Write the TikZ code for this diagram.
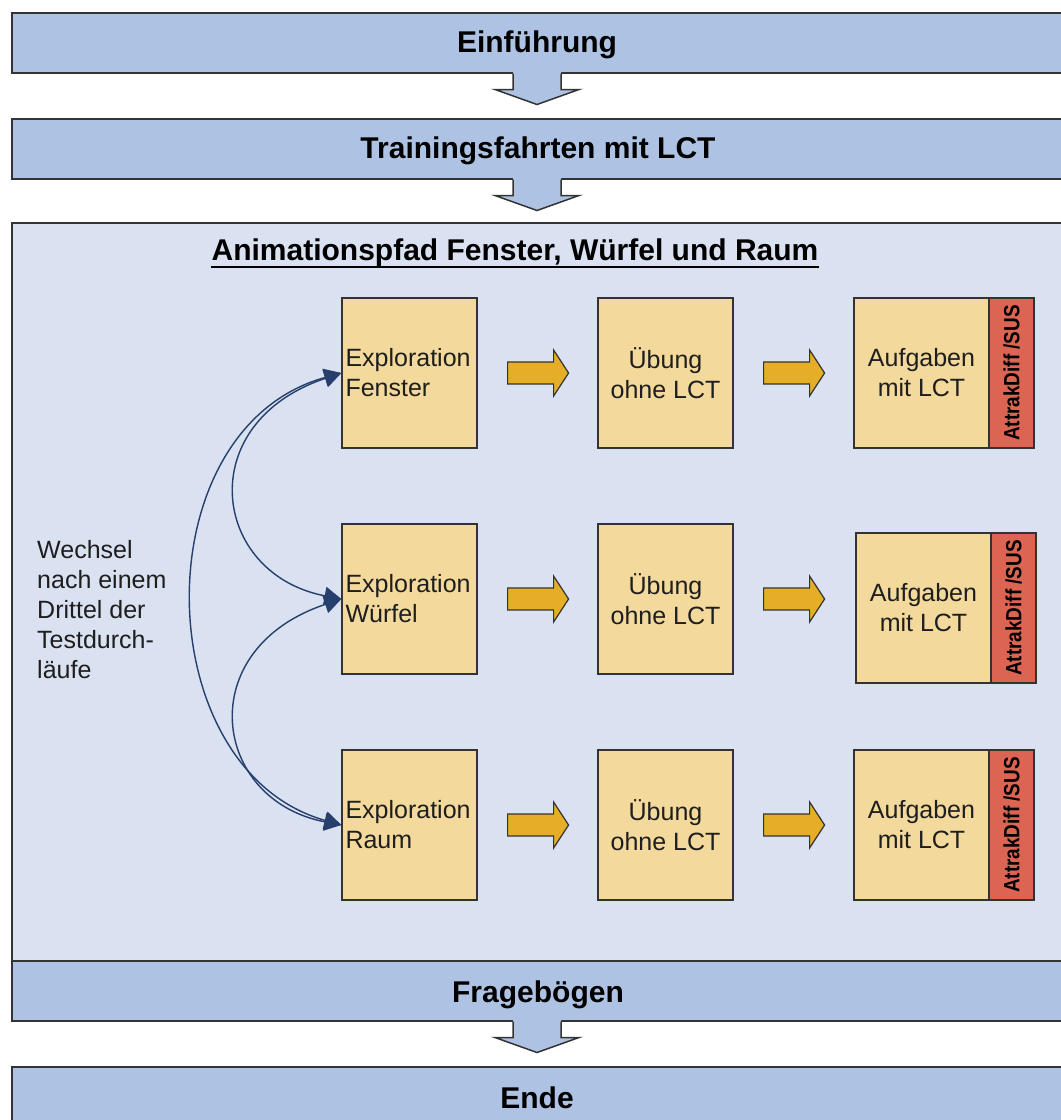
\documentclass[tikz,border=0pt]{standalone}
\usepackage{fontspec}
\setmainfont{Liberation Sans}
\usetikzlibrary{arrows.meta,calc}
\definecolor{bandblue}{HTML}{AEC3E3}
\definecolor{panelblue}{HTML}{DAE1F0}
\definecolor{yboxc}{HTML}{F3D99B}
\definecolor{redc}{HTML}{DC6452}
\definecolor{yarrowc}{HTML}{E6AE27}
\definecolor{navy}{HTML}{263F6C}
\definecolor{edgec}{HTML}{333333}
\definecolor{textc}{HTML}{1E1E1E}
\newcommand{\bandarrow}[1]{%
  \fill[bandblue] (#1) ++(-24,-2) -- ++(0,18) -- ++(-18,0) -- ++(42,15) -- ++(42,-15) -- ++(-18,0) -- ++(0,-18) -- cycle;
  \draw[edge] (#1) ++(-24,0) -- ++(0,16) -- ++(-18,0) -- ++(42,15) -- ++(42,-15) -- ++(-18,0) -- ++(0,-16);
}
\newcommand{\yarr}[1]{%
  \draw[yarrow] ([xshift=30pt]#1) ++(0,-11) -- ++(46,0) -- ++(0,-12) -- ++(15,23) -- ++(-15,23) -- ++(0,-12) -- ++(-46,0) -- cycle;
}
\begin{document}
\begin{tikzpicture}[x=1pt,y=-1pt,
  edge/.style={draw=edgec, line width=1.5pt},
  band/.style={edge, fill=bandblue, anchor=north west, minimum height=60pt, minimum width=1070pt, inner sep=0},
  bandtxt/.style={anchor=base, inner sep=0, text=black, font=\fontsize{30}{36}\selectfont\bfseries},
  ybox/.style={draw=edgec, line width=1.2pt, fill=yboxc, minimum width=135pt, minimum height=150pt, inner sep=0, text=textc, font=\fontsize{25}{30}\selectfont},
  redbox/.style={draw=edgec, line width=1.2pt, fill=redc, rotate=90, minimum width=150pt, minimum height=45pt, inner sep=0, text=black, font=\fontsize{22}{26}\selectfont\bfseries},
  yarrow/.style={draw=edgec, line width=1.2pt, fill=yarrowc, line join=miter},
  curve/.style={draw=navy, line width=1.4pt, {Triangle[length=17pt,width=18pt]}-{Triangle[length=17pt,width=18pt]}},
]
\clip (0,0) rectangle (1061,1120);
\useasboundingbox (0,0) rectangle (1061,1120);
\fill[white] (0,0) rectangle (1061,1120);

% bands
\node[band] (b1) at (11,12) {};
\node[bandtxt] (t1) at (537,52) {Einführung};
\node[band] (b2) at (11,118) {};
\node[bandtxt] (t2) at (538,158) {Trainingsfahrten mit LCT};

% panel
\node[edge, fill=panelblue, anchor=north west, minimum width=1070pt, minimum height=738pt, inner sep=0] (panel) at (11,222) {};
\node[band] (b3) at (11,960) {};
\node[bandtxt] (t3) at (538,1002) {Fragebögen};
\node[band, minimum height=80pt] (b4) at (11,1066) {};
\node[bandtxt] (t4) at (537,1108) {Ende};

\bandarrow{t1 |- b1.south}
\bandarrow{t1 |- b2.south}
\bandarrow{t1 |- b3.south}

% panel title
\node[bandtxt] (title) at (515,260) {Animationspfad Fenster, Würfel und Raum};
\draw[black, line width=2pt] ([yshift=-7pt]title.base west) -- ([yshift=-7pt]title.base east);

% left text
\node[anchor=west, align=left, inner sep=0, text=textc, font=\fontsize{25}{30}\selectfont] (wechsel) at (37,610)
  {Wechsel\\nach einem\\Drittel der\\Testdurch-\\läufe};

% row 1
\node[ybox, text width=128pt, align=left] (ef) at (409.5,373) {Exploration\\Fenster};
\node[ybox, align=center] (uf) at (665.5,373) {Übung\\ohne LCT};
\node[ybox, align=center] (af) at (921.5,373) {Aufgaben\\mit LCT};
\node[redbox] (rf) at (1011.5,373) {\scalebox{0.86}[1]{AttrakDiff /SUS}};
% row 2
\node[ybox, text width=128pt, align=left] (ew) at (409.5,599) {Exploration\\Würfel};
\node[ybox, align=center] (uw) at (665.5,599) {Übung\\ohne LCT};
\node[ybox, align=center] (aw) at (923.5,608) {Aufgaben\\mit LCT};
\node[redbox] (rw) at (1013.5,608) {\scalebox{0.86}[1]{AttrakDiff /SUS}};
% row 3
\node[ybox, text width=128pt, align=left] (er) at (409.5,825) {Exploration\\Raum};
\node[ybox, align=center] (ur) at (665.5,825) {Übung\\ohne LCT};
\node[ybox, align=center] (ar) at (921.5,825) {Aufgaben\\mit LCT};
\node[redbox] (rr) at (1011.5,825) {\scalebox{0.86}[1]{AttrakDiff /SUS}};

% yellow arrows
\yarr{ef.east} \yarr{uf.east}
\yarr{ew.east} \yarr{uw.east}
\yarr{er.east} \yarr{ur.east}

% curved connectors
\draw[curve] (ef.west) .. controls +(-200,55) and +(-195,-55) .. (er.west);
\draw[curve] (ef.west) .. controls +(-150,50) and +(-130,-25) .. (ew.west);
\draw[curve] (ew.west) .. controls +(-150,50) and +(-130,-25) .. (er.west);
\end{tikzpicture}
\end{document}
